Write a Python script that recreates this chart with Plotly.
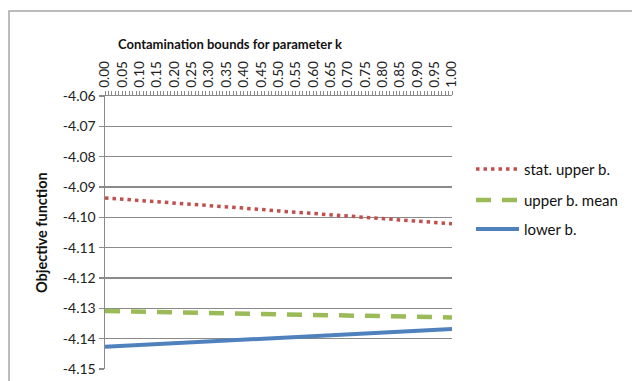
import plotly.graph_objects as go

k_values = [0.00, 0.05, 0.10, 0.15, 0.20, 0.25, 0.30, 0.35, 0.40, 0.45, 0.50,
            0.55, 0.60, 0.65, 0.70, 0.75, 0.80, 0.85, 0.90, 0.95, 1.00]
stat_upper = [-4.0936, -4.0940, -4.0945, -4.0949, -4.0953, -4.0957, -4.0962,
              -4.0966, -4.0970, -4.0974, -4.0979, -4.0983, -4.0987, -4.0991,
              -4.0996, -4.1000, -4.1004, -4.1008, -4.1013, -4.1017, -4.1021]
upper_mean = [-4.1309, -4.1310, -4.1311, -4.1312, -4.1313, -4.1314, -4.1315,
              -4.1316, -4.1317, -4.1318, -4.1320, -4.1321, -4.1322, -4.1323,
              -4.1324, -4.1325, -4.1326, -4.1327, -4.1328, -4.1329, -4.1330]
lower_b = [-4.1427, -4.1424, -4.1421, -4.1418, -4.1415, -4.1412, -4.1409,
           -4.1406, -4.1403, -4.1400, -4.1398, -4.1395, -4.1392, -4.1389,
           -4.1386, -4.1383, -4.1380, -4.1377, -4.1374, -4.1371, -4.1368]
series_names = ["stat. upper b.", "upper b. mean", "lower b."]
x_tick_labels = ["%.2f" % v for v in k_values]
y_ticks = [-4.06, -4.07, -4.08, -4.09, -4.10, -4.11, -4.12, -4.13, -4.14, -4.15]
y_tick_labels = ["%.2f" % v for v in y_ticks]

FONT = "Lato"
GRID = "#8a8a8a"
colors = ["#C0504D", "#9BBB59", "#4F81BD"]
widths = [3.5, 4.5, 4]
dashes = ["3.5px,4px", "15px,11px", "solid"]

fig = go.Figure()
for name, ys, c, w, d in zip(series_names, [stat_upper, upper_mean, lower_b],
                             colors, widths, dashes):
    fig.add_trace(go.Scatter(x=k_values, y=ys, mode="lines", name=name,
                             line=dict(color=c, width=w, dash=d),
                             showlegend=False, hoverinfo="skip"))

L, R, T, B = 105, 180, 96, 12
W, H = 632, 381
pw, ph = W - L - R, H - T - B

def px_x(p):
    return (p - L) / pw

def px_y(p):
    return 1 - (p - T) / ph

fig.update_layout(
    width=W, height=H,
    margin=dict(l=L, r=R, t=T, b=B, autoexpand=False),
    paper_bgcolor="white", plot_bgcolor="white",
    font=dict(family=FONT, size=13, color="#222"),
    showlegend=False,
    xaxis=dict(
        side="top", range=[0, 1], tickmode="array",
        tickvals=k_values, ticktext=x_tick_labels, tickangle=-90,
        ticks="outside", ticklen=4, tickcolor=GRID, tickwidth=1,
        minor=dict(dtick=0.01, tick0=0, ticks="outside", ticklen=4,
                   tickcolor=GRID, tickwidth=1, showgrid=False),
        showline=True, linecolor=GRID, linewidth=1.5,
        showgrid=False, zeroline=False, automargin=False,
        tickfont=dict(family=FONT, size=13.5, color="#222"),
        fixedrange=True,
    ),
    yaxis=dict(
        range=[-4.15, -4.06], tickmode="array", tickvals=y_ticks,
        ticktext=y_tick_labels,
        ticks="outside", ticklen=5, tickcolor=GRID, tickwidth=1.5,
        showline=True, linecolor=GRID, linewidth=1.5,
        showgrid=True, gridcolor=GRID, gridwidth=1.5, zeroline=False,
        automargin=False,
        tickfont=dict(family=FONT, size=14, color="#222"),
        fixedrange=True,
    ),
)

fig.add_annotation(text="<b>Contamination bounds for parameter k</b>",
                   xref="paper", yref="paper", x=px_x(230), y=px_y(44),
                   showarrow=False, font=dict(family=FONT, size=13, color="#111"),
                   xanchor="center", yanchor="middle")
fig.add_annotation(text="<b>Objective function</b>",
                   xref="paper", yref="paper", x=px_x(41), y=px_y(233),
                   showarrow=False, textangle=-90,
                   font=dict(family=FONT, size=14.5, color="#111"),
                   xanchor="center", yanchor="middle")

# custom legend (Excel-style long line samples)
leg_y = [169, 200, 229]
for name, c, w, d, yy in zip(series_names, colors, widths, dashes, leg_y):
    fig.add_shape(type="line", xref="paper", yref="paper",
                  x0=px_x(476), x1=px_x(519), y0=px_y(yy), y1=px_y(yy),
                  line=dict(color=c, width=w, dash=d))
    fig.add_annotation(text=name, xref="paper", yref="paper",
                       x=px_x(522), y=px_y(yy), xanchor="left", yanchor="middle",
                       showarrow=False,
                       font=dict(family=FONT, size=15, color="#111"))

fig.add_shape(type="rect", xref="paper", yref="paper",
              x0=px_x(9), x1=px_x(660), y0=px_y(11), y1=px_y(400),
              line=dict(color="#a6a6a6", width=1.5), layer="below")

fig.write_html("out.html",
               config={"displayModeBar": False, "staticPlot": True},
               post_script="document.body.style.margin='0px';"
                           "document.body.style.overflow='hidden';")
